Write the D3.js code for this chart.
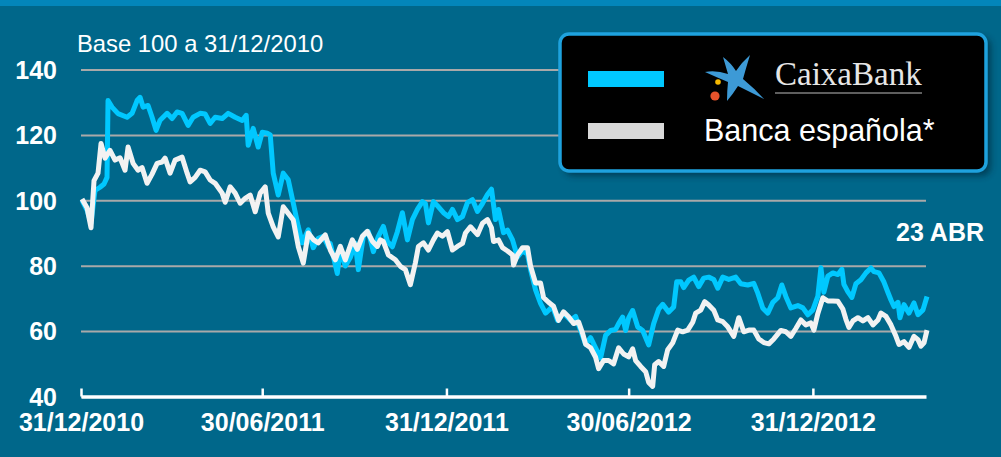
<!DOCTYPE html>
<html>
<head>
<meta charset="utf-8">
<script src="https://cdn.jsdelivr.net/npm/d3@7"></script>
<style>
  html, body { margin: 0; padding: 0; background: #00678a; }
  svg { display: block; font-family: "Liberation Sans", Arial, sans-serif; }
</style>
</head>
<body>
<svg id="chart" width="1001" height="457"></svg>
<script>
// days since 31/12/2010 and index value (base 100)
var caixaDays = [1, 6, 10, 14, 19, 23, 26, 27, 31, 37, 46, 51, 56, 59, 62, 67, 71, 75, 79, 86, 91, 96, 101, 107, 112, 119, 124, 129, 134, 141, 147, 154, 161, 165, 167, 172, 177, 181, 186, 189, 192, 197, 202, 207, 212, 217, 221, 227, 232, 237, 242, 247, 249, 256, 259, 264, 269, 274, 277, 282, 287, 292, 297, 302, 306, 311, 316, 321, 326, 331, 336, 341, 344, 347, 352, 357, 362, 367, 371, 376, 381, 386, 391, 396, 401, 406, 410, 414, 417, 422, 426, 431, 436, 441, 446, 449, 454, 459, 464, 471, 476, 482, 489, 494, 499, 504, 509, 514, 519, 524, 529, 534, 537, 541, 544, 547, 551, 556, 561, 567, 572, 577, 581, 587, 592, 595, 599, 602, 607, 612, 617, 622, 627, 632, 636, 641, 647, 654, 659, 666, 672, 676, 681, 686, 691, 696, 700, 704, 709, 716, 721, 726, 731, 736, 739, 742, 746, 751, 756, 760, 762, 766, 770, 774, 779, 784, 789, 792, 797, 802, 806, 809, 812, 816, 818, 822, 827, 832, 836, 841, 845];
var caixaValues = [100, 97, 93, 103, 104, 105, 107, 130.5, 128.5, 126.5, 125.4, 126.6, 130.5, 131.5, 128.5, 129, 125.4, 121.4, 124.5, 126.6, 125, 127, 126.6, 122.9, 125.4, 126.6, 126.4, 123.5, 125.4, 125, 126.6, 125.4, 124.4, 126, 116.8, 122, 116.3, 120.8, 120.5, 120, 108.3, 101.6, 108.3, 106.3, 99.2, 92, 87, 91, 85.5, 88.4, 89, 85.9, 86.8, 77.6, 84.8, 79.9, 82.5, 86.8, 78.8, 89, 90.4, 84.3, 89, 92, 87.4, 85.8, 90.4, 96.2, 87.9, 94.1, 97.2, 99.6, 99, 93.1, 99.6, 98, 96.2, 95, 97.2, 94.1, 95, 99.3, 100.2, 96.6, 99, 101.8, 103.4, 94.1, 97.2, 90.1, 90.9, 87.9, 82.7, 84.5, 83.5, 78.8, 72.6, 68.5, 65.5, 67.5, 63.3, 65.5, 63.3, 64.5, 60.2, 56, 58, 54.9, 51.8, 58.7, 60.2, 60.5, 62.3, 64.3, 60.2, 64, 66.3, 61.3, 60.2, 55.8, 62.3, 66.7, 68.2, 65.8, 67.4, 75.1, 75.1, 73.3, 75.6, 76.5, 73.6, 76.2, 76.5, 75.8, 73.1, 76.5, 75.8, 76.5, 74.5, 74.1, 74.6, 71.6, 67, 65.5, 68.8, 70.2, 74.1, 70.6, 67.1, 67.8, 67.1, 65, 66.5, 70.7, 79.4, 71.9, 76.8, 77.8, 77.3, 78.9, 74.3, 72, 70.3, 74.5, 75.7, 77.8, 79.3, 78.2, 77.8, 75, 71.8, 69.5, 67.5, 68.8, 64.1, 68.1, 65.5, 68.6, 65, 66.5, 70.6];

var bancaDays = [1, 6, 10, 13, 17, 20, 24, 29, 34, 39, 44, 47, 52, 57, 61, 66, 71, 76, 81, 84, 89, 94, 101, 106, 109, 114, 119, 124, 129, 134, 141, 144, 149, 154, 159, 164, 169, 174, 179, 184, 187, 192, 197, 202, 207, 212, 217, 222, 227, 232, 237, 244, 249, 254, 259, 264, 271, 276, 281, 286, 291, 296, 299, 302, 307, 314, 319, 324, 329, 334, 337, 342, 347, 352, 356, 361, 366, 371, 376, 381, 384, 389, 396, 401, 406, 410, 412, 417, 421, 426, 431, 432, 436, 441, 446, 449, 454, 459, 462, 467, 472, 477, 482, 487, 492, 497, 501, 504, 509, 514, 517, 522, 527, 532, 537, 542, 547, 551, 554, 559, 564, 567, 571, 573, 577, 582, 586, 591, 596, 601, 606, 611, 614, 619, 623, 627, 632, 636, 641, 646, 652, 657, 662, 667, 672, 677, 682, 687, 692, 699, 704, 709, 714, 719, 724, 729, 732, 736, 741, 746, 751, 756, 761, 764, 767, 771, 776, 781, 786, 791, 796, 799, 804, 809, 814, 817, 822, 827, 832, 836, 839, 842, 845];
var bancaValues = [100.4, 97.7, 91.6, 106, 108.3, 117.4, 112.9, 115.3, 112.3, 113, 109.2, 116.3, 111.3, 109.2, 110, 105.2, 108, 111.3, 111.7, 112.9, 108.3, 112.3, 113.2, 108.3, 105.6, 107, 109.2, 108.7, 106.2, 105.2, 102.2, 99.4, 104.1, 102.2, 99.1, 100.6, 101.6, 96.5, 102.2, 104.1, 96.1, 91.9, 88.8, 98, 96, 94, 85.9, 80.8, 90, 88, 87, 89.4, 84.8, 81.8, 85.9, 81.8, 87.9, 85, 89, 90.5, 87.5, 85.9, 87.9, 87.4, 83.3, 81.8, 79.8, 78.8, 74.2, 80.9, 85.9, 87, 84.8, 87.9, 90, 89, 90.4, 84.8, 85.9, 86.8, 90, 91.9, 89.5, 93, 94.1, 91.6, 87.4, 87.9, 85.5, 84.5, 83.3, 80.2, 83.3, 85.5, 85.5, 79.9, 74.7, 74.7, 70.3, 68.8, 67.6, 63.3, 65.9, 64.4, 62.3, 62.8, 59.3, 56, 54.9, 52, 48.5, 51, 51, 50, 54.9, 53, 52.1, 54.6, 51, 49.2, 47.6, 44.3, 43.1, 49.7, 50.7, 49.2, 54.3, 56.4, 60.3, 59.8, 60.3, 62.7, 65.5, 66.4, 69, 68, 66.4, 63.4, 62.9, 61.3, 58.4, 64.1, 59.8, 60.3, 60.3, 57.6, 56.5, 56.1, 57.6, 60.2, 59.8, 58.4, 60.8, 63.4, 61.9, 62.5, 60.3, 65.4, 70.2, 69.2, 69.2, 69.1, 66.7, 63.6, 61.1, 63.1, 64.1, 63.1, 64.1, 61.9, 63.4, 65.5, 64.5, 61.9, 58.4, 55.9, 56.8, 55, 58.4, 57.4, 55.4, 56.4, 60.3];

var yTicks = [40, 60, 80, 100, 120, 140];
var xTickDates = ["2010-12-31", "2011-06-30", "2011-12-31", "2012-06-30", "2012-12-31"];
var startDate = "2010-12-31";
var endDate = "2013-04-23";
var legendNames = ["CaixaBank", "Banca española*"];

var parse = d3.timeParse("%Y-%m-%d");
var fmt = d3.timeFormat("%d/%m/%Y");
var base = parse(startDate);

var svg = d3.select("#chart");

// top strip
svg.append("rect")
  .attr("x", 0).attr("y", 0).attr("width", 1001).attr("height", 6)
  .attr("fill", "#0386ba");

var x = d3.scaleTime()
  .domain([base, parse(endDate)])
  .range([81, 926]);

var y = d3.scaleLinear()
  .domain([40, 140])
  .range([396.5, 69.5]);

// gridlines + y labels
var yAxis = svg.append("g")
  .attr("transform", "translate(81,0)")
  .call(d3.axisLeft(y).tickValues(yTicks).tickSize(-845).tickPadding(24).tickFormat(d3.format("d")));
yAxis.select(".domain").remove();
yAxis.selectAll("line")
  .attr("stroke", "#a9a9a9")
  .attr("stroke-width", 2);
yAxis.selectAll("text")
  .attr("fill", "#ffffff")
  .attr("dy", "0.35em")
  .style("font-size", "25px")
  .style("font-weight", "bold")
  .style("font-family", "'Liberation Sans', Arial, sans-serif");

svg.append("text")
  .attr("x", 77)
  .attr("y", 52)
  .attr("fill", "#ffffff")
  .style("font-size", "23.8px")
  .text("Base 100 a 31/12/2010");

// series
function toPoints(days, values) {
  var pts = [];
  for (var i = 0; i < days.length; i++) {
    pts.push({ date: d3.timeDay.offset(base, days[i]), value: values[i] });
  }
  return pts;
}

var line = d3.line()
  .x(function(d) { return x(d.date); })
  .y(function(d) { return y(d.value); });

svg.append("path")
  .datum(toPoints(caixaDays, caixaValues))
  .attr("d", line)
  .attr("fill", "none")
  .attr("stroke", "#00c8ff")
  .attr("stroke-width", 5)
  .attr("stroke-linejoin", "round");

svg.append("path")
  .datum(toPoints(bancaDays, bancaValues))
  .attr("d", line)
  .attr("fill", "none")
  .attr("stroke", "#f2f2f2")
  .attr("stroke-width", 5)
  .attr("stroke-linejoin", "round");

// x axis
var xAxis = svg.append("g")
  .attr("transform", "translate(0,396.5)")
  .call(d3.axisBottom(x)
    .tickValues(xTickDates.map(parse))
    .tickSizeInner(-8)
    .tickSizeOuter(0)
    .tickPadding(17)
    .tickFormat(fmt));
xAxis.select(".domain")
  .attr("stroke", "#ffffff")
  .attr("stroke-width", 3.5);
xAxis.selectAll("line")
  .attr("stroke", "#ffffff")
  .attr("stroke-width", 2.5);
xAxis.selectAll("text")
  .attr("fill", "#ffffff")
  .style("font-size", "25px")
  .style("font-weight", "bold")
  .style("font-family", "'Liberation Sans', Arial, sans-serif");

svg.append("text")
  .attr("x", 984)
  .attr("y", 241)
  .attr("text-anchor", "end")
  .attr("fill", "#ffffff")
  .style("font-size", "25px")
  .style("font-weight", "bold")
  .text("23 ABR");

// legend
var defs = svg.append("defs");
var blur = defs.append("filter").attr("id", "shadow").attr("x", "-10%").attr("y", "-10%").attr("width", "130%").attr("height", "130%");
blur.append("feGaussianBlur").attr("stdDeviation", 3);

var legend = svg.append("g");
legend.append("rect")
  .attr("x", 564).attr("y", 37).attr("width", 427).attr("height", 139)
  .attr("rx", 9)
  .attr("fill", "#002838")
  .attr("opacity", 0.6)
  .attr("filter", "url(#shadow)");
legend.append("rect")
  .attr("x", 560).attr("y", 34).attr("width", 426).attr("height", 137)
  .attr("rx", 9)
  .attr("fill", "#000000")
  .attr("stroke", "#1ea2de")
  .attr("stroke-width", 3.5);

legend.append("rect")
  .attr("x", 588).attr("y", 71).attr("width", 76).attr("height", 16)
  .attr("fill", "#00c8ff");
legend.append("rect")
  .attr("x", 588).attr("y", 123).attr("width", 76).attr("height", 16)
  .attr("fill", "#d9d9d9");

// CaixaBank logo
legend.append("path")
  .attr("d", "M705,72 Q716,70 728,74 L723,57 Q731,63 736,71 Q742,62 750,55 Q746,68 743,79 Q754,88 764,99 Q750,92 738,86 Q733,94 727,101 Q727,91 728,82 Q716,77 705,72 Z")
  .attr("fill", "#3d9ad6");
legend.append("circle").attr("cx", 718).attr("cy", 82).attr("r", 2.8).attr("fill", "#f6b800");
legend.append("circle").attr("cx", 715).attr("cy", 96).attr("r", 4.6).attr("fill", "#e8532b");
legend.append("text")
  .attr("x", 775)
  .attr("y", 85)
  .attr("fill", "#e6e6e6")
  .style("font-family", "'Liberation Serif', 'Times New Roman', serif")
  .style("font-size", "33px")
  .text(legendNames[0]);
legend.append("line")
  .attr("x1", 775).attr("x2", 922).attr("y1", 93).attr("y2", 93)
  .attr("stroke", "#bdbdbd")
  .attr("stroke-width", 1);

legend.append("text")
  .attr("x", 704)
  .attr("y", 141)
  .attr("fill", "#ffffff")
  .style("font-size", "30.5px")
  .text(legendNames[1]);
</script>
</body>
</html>
